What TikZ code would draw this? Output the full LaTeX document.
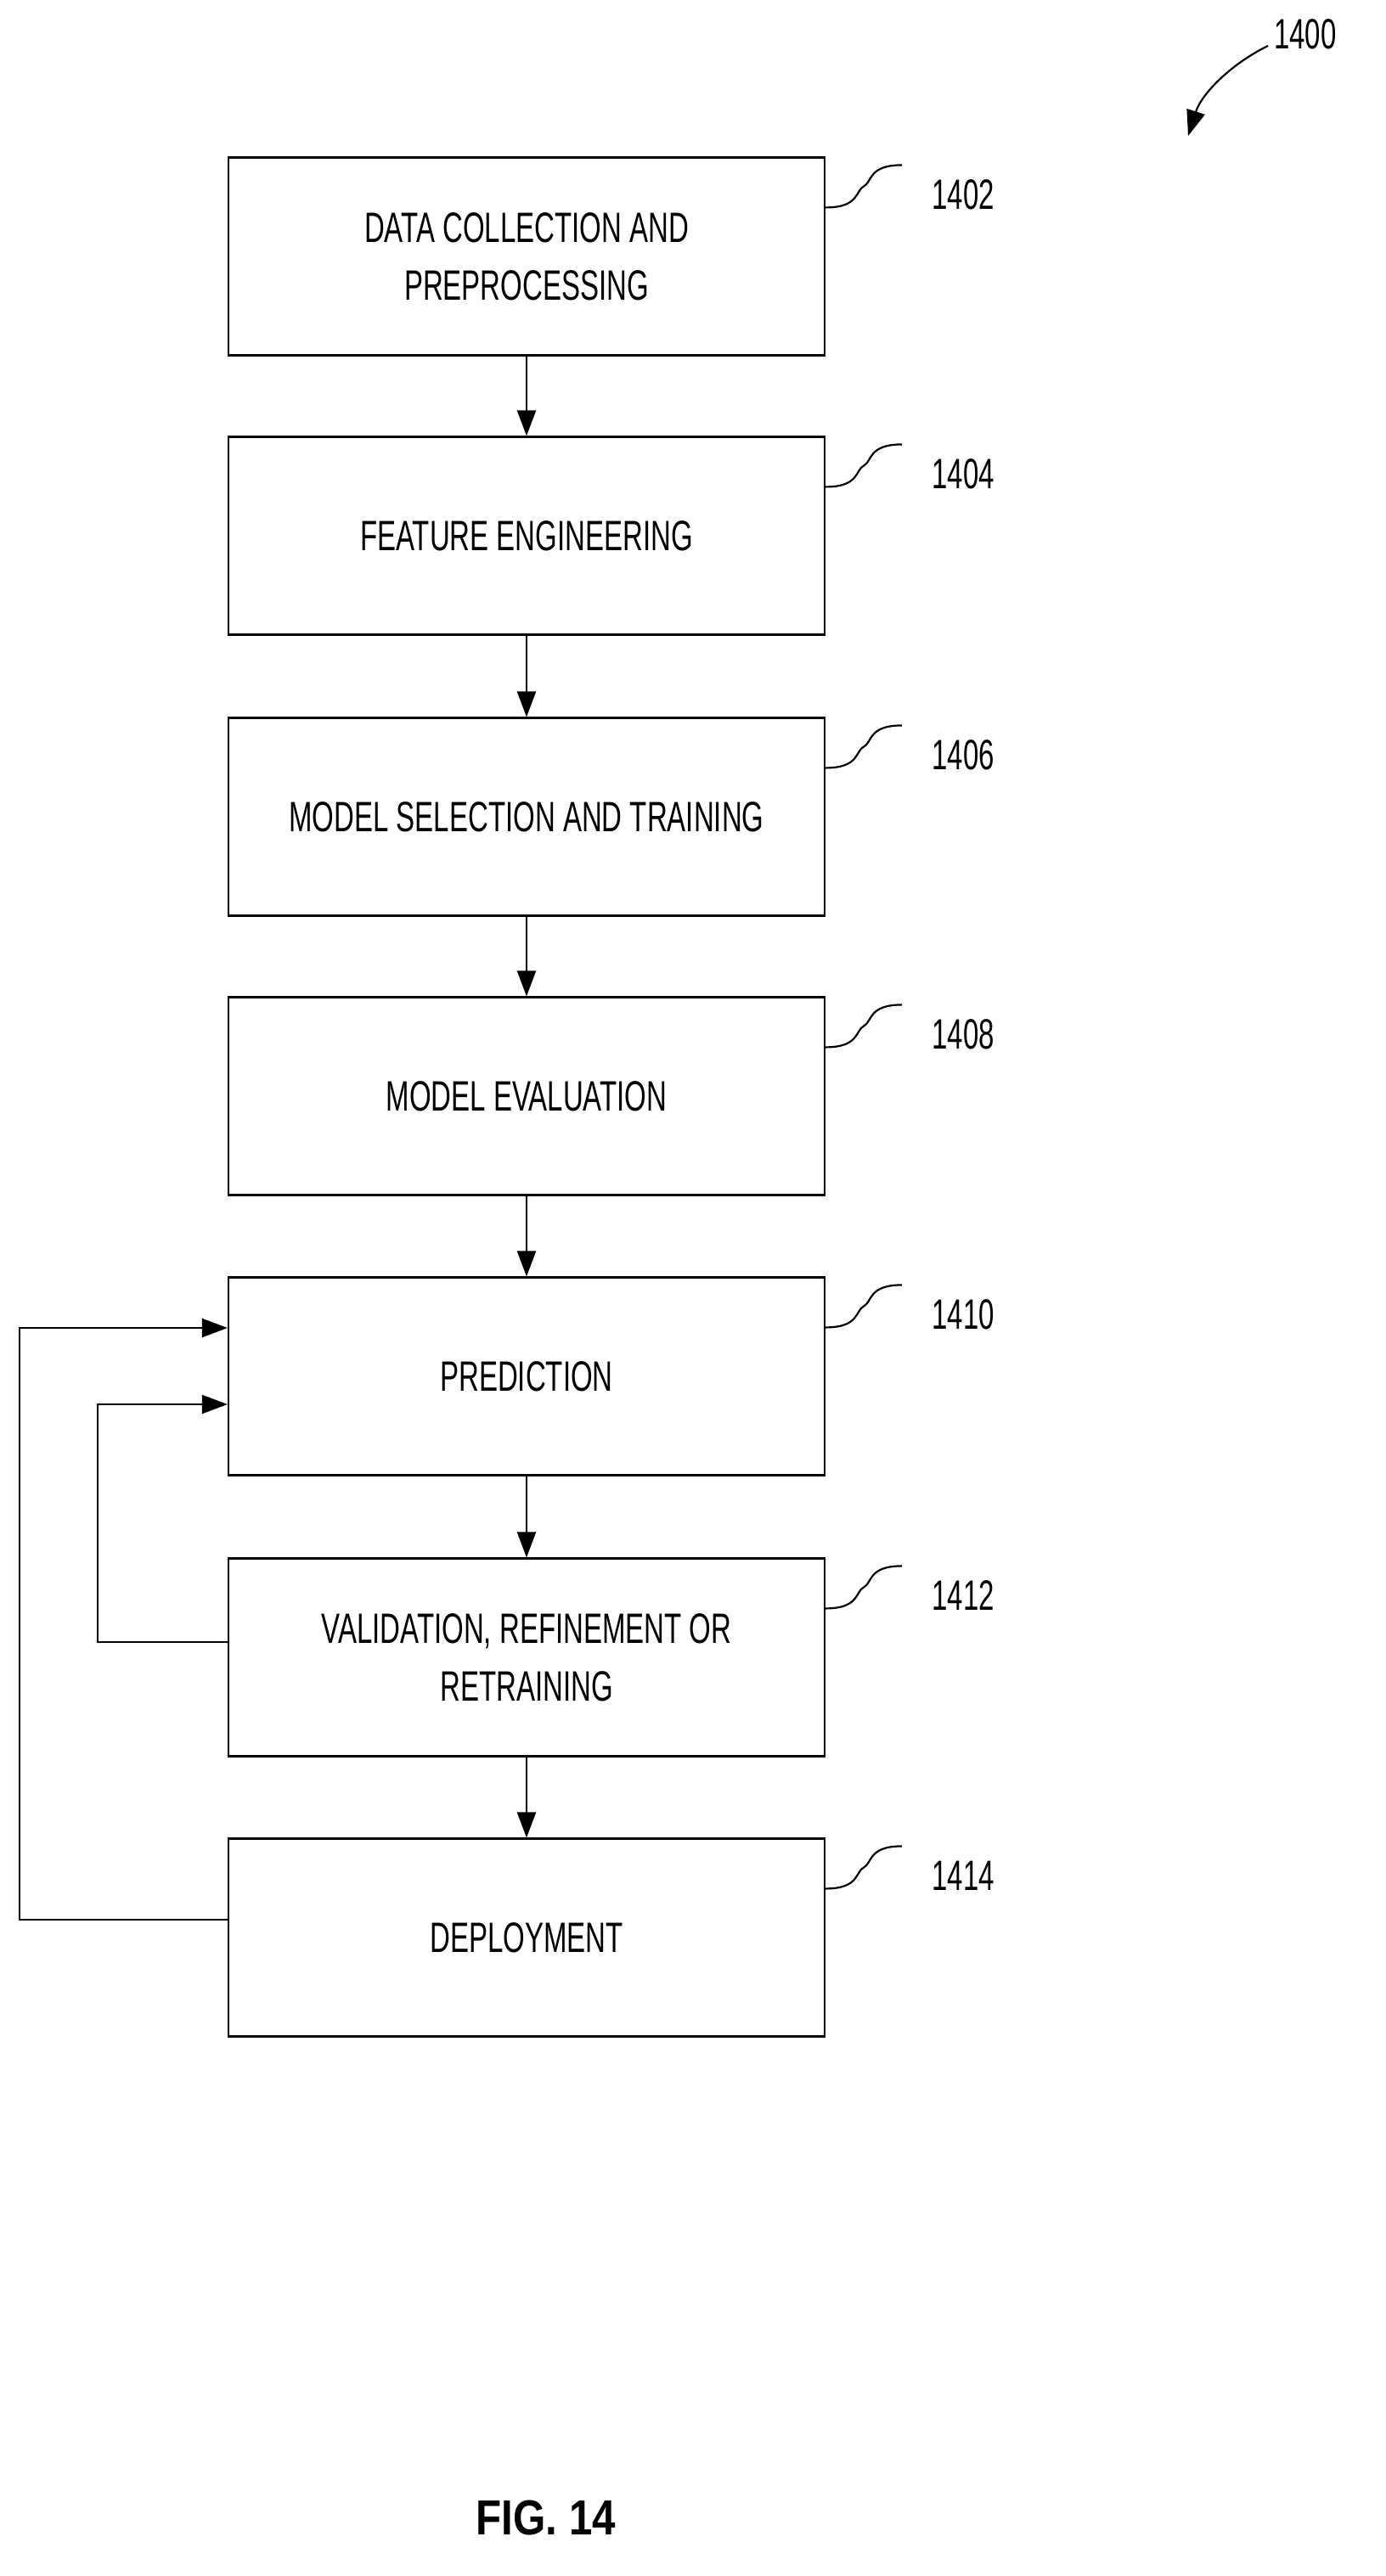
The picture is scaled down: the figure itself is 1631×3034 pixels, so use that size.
\documentclass[tikz,border=0pt]{standalone}
\usepackage{fontspec}
\setmainfont{Liberation Sans}[FakeStretch=0.66]
\newfontfamily\figfont{Liberation Sans}[FakeStretch=0.85]
\usetikzlibrary{arrows.meta}
\begin{document}
\begin{tikzpicture}[x=1pt,y=-1pt,
  box/.style={draw,line width=2.2pt,minimum width=702pt,minimum height=233pt,align=center,font=\fontsize{50}{68}\selectfont,inner sep=0pt},
  lbl/.style={font=\fontsize{50}{60}\selectfont,anchor=west,inner sep=0pt},
  arr/.style={line width=2.2pt,-{Triangle[length=30pt,width=22pt]}},
  ln/.style={line width=2.2pt}]
\useasboundingbox (0,0) rectangle (1631,3034);
\foreach \n/\y/\t in {1/302/{DATA COLLECTION AND\\PREPROCESSING},2/631/{FEATURE ENGINEERING},3/962/{MODEL SELECTION AND TRAINING},4/1291/{MODEL EVALUATION},5/1621/{PREDICTION},6/1952/{VALIDATION, REFINEMENT OR\\RETRAINING},7/2282/{DEPLOYMENT}}{
  \node[box] (b\n) at (620,\y) {\t};
}
\foreach \n/\num in {1/1402,2/1404,3/1406,4/1408,5/1410,6/1412,7/1414}{
  \coordinate (s\n) at ([yshift=-60pt]b\n.north east);
  \coordinate (e\n) at ([xshift=90pt,yshift=-10pt]b\n.north east);
  \draw[ln] (s\n) .. controls ++(40,0) and ++(-10,5) .. ([xshift=45pt,yshift=-35pt]b\n.north east) .. controls ++(10,-5) and ++(-40,0) .. ([xshift=90pt,yshift=-10pt]b\n.north east);
  \node[lbl] (l\n) at ([xshift=125pt,yshift=-45pt]b\n.north east) {\num};
}
\foreach \a/\b in {1/2,2/3,3/4,4/5,5/6,6/7}{ \draw[arr] (b\a) -- (b\b); }
\draw[arr] (b7.west |- 0,2261) -- (23,2261) -- (23,1564) -- (b5.west |- 0,1564);
\draw[arr] (b6.west |- 0,1934) -- (115,1934) -- (115,1654) -- (b5.west |- 0,1654);
\node[lbl] (l0) at (1500,40) {1400};
\coordinate (t0) at (1493,54);
\coordinate (h0) at (1399,160);
\draw[arr] (t0) .. controls (1450,75) and (1415,110) .. (h0);
\node[font=\figfont\bfseries\fontsize{58}{60}\selectfont] (fig) at (643,2965) {FIG. 14};
\end{tikzpicture}
\end{document}
